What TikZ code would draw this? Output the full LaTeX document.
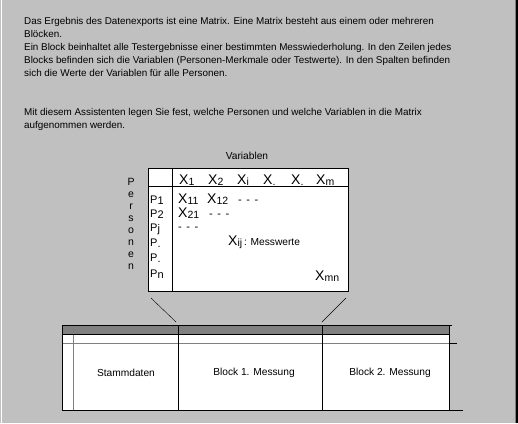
\documentclass[tikz,border=0pt]{standalone}
\usepackage{fontspec}
\setmainfont{Liberation Sans}
\usepackage{xcolor}
\usetikzlibrary{positioning,calc}

\definecolor{winbg}{HTML}{C0C0C0}
\definecolor{windark}{HTML}{808080}

% matrix symbols: big X with lowered index
\newcommand{\xsym}[1]{{\fontsize{14}{14}\selectfont X}\raisebox{-1.5pt}{\fontsize{10.5}{10}\selectfont #1}}
\newcommand{\psym}[1]{P\raisebox{-1.5pt}{#1}}
\newcommand{\dashes}{-\hskip4.5pt-\hskip4.5pt-}

\begin{document}
\begin{tikzpicture}[x=1pt, y=-1pt,
    txt/.style={font=\fontsize{9.87}{13}\selectfont, align=left, inner sep=0pt},
    lbl/.style={font=\fontsize{10.2}{12}\selectfont, inner sep=0pt},
    cell/.style={font=\fontsize{11}{12}\selectfont, inner sep=0pt, anchor=base west},
    frame/.style={draw=black, line width=1pt},
    thin/.style={draw=windark, line width=1pt}
]
% Window
\fill[winbg] (0,0) rectangle (518,423);
\useasboundingbox (0,0) rectangle (518,423);
\draw[white, line width=1pt] (1.5,0) -- (1.5,423);
\draw[windark, line width=1pt] (515,0) -- (515,423);
\fill[black] (516,0) rectangle (518,423);

% Explanation
\node[txt, anchor=north west] (intro) at (24,17) {Das Ergebnis des Datenexports ist eine Matrix. Eine Matrix besteht aus einem oder mehreren\\
Blöcken.\\
Ein Block beinhaltet alle Testergebnisse einer bestimmten Messwiederholung. In den Zeilen jedes\\
Blocks befinden sich die Variablen (Personen-Merkmale oder Testwerte). In den Spalten befinden\\
sich die Werte der Variablen für alle Personen.};
\node[txt, anchor=north west] (hint) at (24,108) {Mit diesem Assistenten legen Sie fest, welche Personen und welche Variablen in die Matrix\\
aufgenommen werden.};

% Matrix
\filldraw[fill=white, frame] (148,168) rectangle (348,291);
\draw[frame] (148,186) -- (348,186);
\draw[frame] (172,168) -- (172,291);
\node[lbl] (var) at (247,156) {Variablen};
\node[lbl, align=center, font=\fontsize{10.5}{12}\selectfont, anchor=north] (pers) at (131,178) {P\\e\\r\\s\\o\\n\\e\\n};

% Column heads
\node[cell] (c1) at (179,184) {\xsym{1}};
\node[cell] (c2) at (208,184) {\xsym{2}};
\node[cell] (c3) at (237,184) {\xsym{i}};
\node[cell] (c4) at (263,184) {\xsym{.}};
\node[cell] (c5) at (291,184) {\xsym{.}};
\node[cell] (c6) at (316,184) {\xsym{m}};

% Row heads
\node[cell] (r1) at (150,203) {\psym{1}};
\node[cell] (r2) at (150,217) {\psym{2}};
\node[cell] (r3) at (150,231) {\psym{j}};
\node[cell] (r4) at (150,246) {\psym{.}};
\node[cell] (r5) at (150,261) {\psym{.}};
\node[cell] (r6) at (150,277) {\psym{n}};

% Values
\node[cell] (v11) at (178,203) {\xsym{11}};
\node[cell] (v12) at (207,203) {\xsym{12}};
\node[cell] (d1) at (238,203) {\dashes};
\node[cell] (v21) at (178,217) {\xsym{21}};
\node[cell] (d2) at (209,217) {\dashes};
\node[cell] (d3) at (178,230) {\dashes};
\node[cell] (vij) at (228,245) {\xsym{ij}\,{\fontsize{10.2}{12}\selectfont : Messwerte}};
\node[cell] (vmn) at (315,280) {\xsym{mn}};

% Zoom lines
\coordinate (zl1) at (151,298);
\coordinate (zl2) at (176,322);
\coordinate (zr1) at (346,298);
\coordinate (zr2) at (322,322);
\draw[black] (zl1) -- (zl2);
\draw[black] (zr1) -- (zr2);

% Blocks
\fill[white] (62,334) rectangle (449,410);
\fill[windark] (62,325) rectangle (449,334);
\draw[thin] (62,343) -- (449,343);
\draw[frame] (449,343) -- (457,343);
\draw[thin] (73,334) -- (73,410);
\draw[frame] (62,325) -- (452,325);
\draw[frame] (62,334) -- (449,334);
\draw[frame] (62,410) -- (463,410);
\foreach \bx in {62,178,322,449}
  \draw[frame] (\bx,325) -- (\bx,410);
\node[lbl] (b0) at (126,373) {Stammdaten};
\node[lbl] (b1) at (254,373) {Block 1. Messung};
\node[lbl] (b2) at (390,373) {Block 2. Messung};
\end{tikzpicture}
\end{document}
